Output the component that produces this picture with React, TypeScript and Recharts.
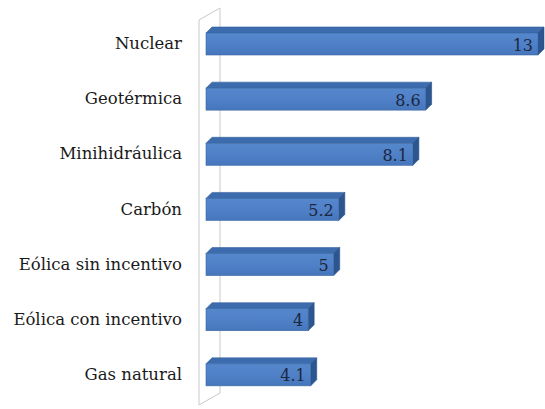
import { Bar, BarChart, LabelList, ReferenceArea, XAxis, YAxis } from 'recharts';

const categories = [
  'Nuclear',
  'Geotérmica',
  'Minihidráulica',
  'Carbón',
  'Eólica sin incentivo',
  'Eólica con incentivo',
  'Gas natural',
];
const values = [13, 8.6, 8.1, 5.2, 5, 4, 4.1];

const data = categories.map((name, i) => ({ name, value: values[i] }));

const DEPTH = 6;
const FONT = 'DejaVu Serif';

// barra con cara superior y lateral para simular volumen
function Bar3D(props: any) {
  const { x, y, width, height } = props;
  const d = DEPTH;
  const top = `${x},${y} ${x + d},${y - d} ${x + width + d},${y - d} ${x + width},${y}`;
  const side = `${x + width},${y} ${x + width + d},${y - d} ${x + width + d},${y + height - d} ${x + width},${y + height}`;
  return (
    <g>
      <polygon points={top} fill="#3d6cae" stroke="#345f9c" strokeWidth={0.6} />
      <polygon points={side} fill="#2c5690" stroke="#294f85" strokeWidth={0.6} />
      <rect x={x} y={y} width={width} height={height} fill="url(#frontGrad)" stroke="#3b67a3" strokeWidth={0.6} />
    </g>
  );
}

// pared lateral del gráfico 3D
function Wall(props: any) {
  const { x, y, height } = props;
  const l = x - 7;
  const b = x + 14;
  const t = y + 4;
  const bot = y + height + 3;
  return (
    <g fill="none" stroke="#c9c9c9" strokeWidth={1}>
      <polyline points={`${l},${bot} ${l},${t} ${b},${t - 12} ${b},${bot - 12} ${l},${bot}`} />
    </g>
  );
}

function ValueLabel(props: any) {
  const { x, y, width, height, value } = props;
  return (
    <text
      x={x + width - 5}
      y={y + height / 2 + 1}
      textAnchor="end"
      dominantBaseline="central"
      fontFamily={FONT}
      fontSize={16}
      fill="#1c2740"
    >
      {value}
    </text>
  );
}

function CategoryTick(props: any) {
  const { x, y, payload } = props;
  return (
    <text
      x={x}
      y={y}
      textAnchor="end"
      dominantBaseline="central"
      fontFamily={FONT}
      fontSize={16.5}
      fill="#1a1a1a"
    >
      {payload.value}
    </text>
  );
}

export default function App() {
  return (
    <div style={{ position: 'absolute', left: 0, top: 0, background: '#fff', fontFamily: FONT }}>
      <BarChart
        width={545}
        height={409}
        data={data}
        layout="vertical"
        margin={{ top: 16, right: 7, bottom: 7, left: 0 }}
      >
        <defs>
          <linearGradient id="frontGrad" x1="0" y1="0" x2="0" y2="1">
            <stop offset="0%" stopColor="#5587cd" />
            <stop offset="50%" stopColor="#5081c8" />
            <stop offset="100%" stopColor="#4676bb" />
          </linearGradient>
        </defs>
        <XAxis type="number" domain={[0, 13]} hide />
        <YAxis
          type="category"
          dataKey="name"
          width={206}
          axisLine={false}
          tickLine={false}
          tickSize={0}
          tickMargin={24}
          tick={<CategoryTick />}
          interval={0}
        />
        <ReferenceArea x1={0} x2={13} shape={<Wall />} fillOpacity={0} />
        <Bar dataKey="value" barSize={22} shape={<Bar3D />} isAnimationActive={false}>
          <LabelList dataKey="value" content={<ValueLabel />} />
        </Bar>
      </BarChart>
    </div>
  );
}
